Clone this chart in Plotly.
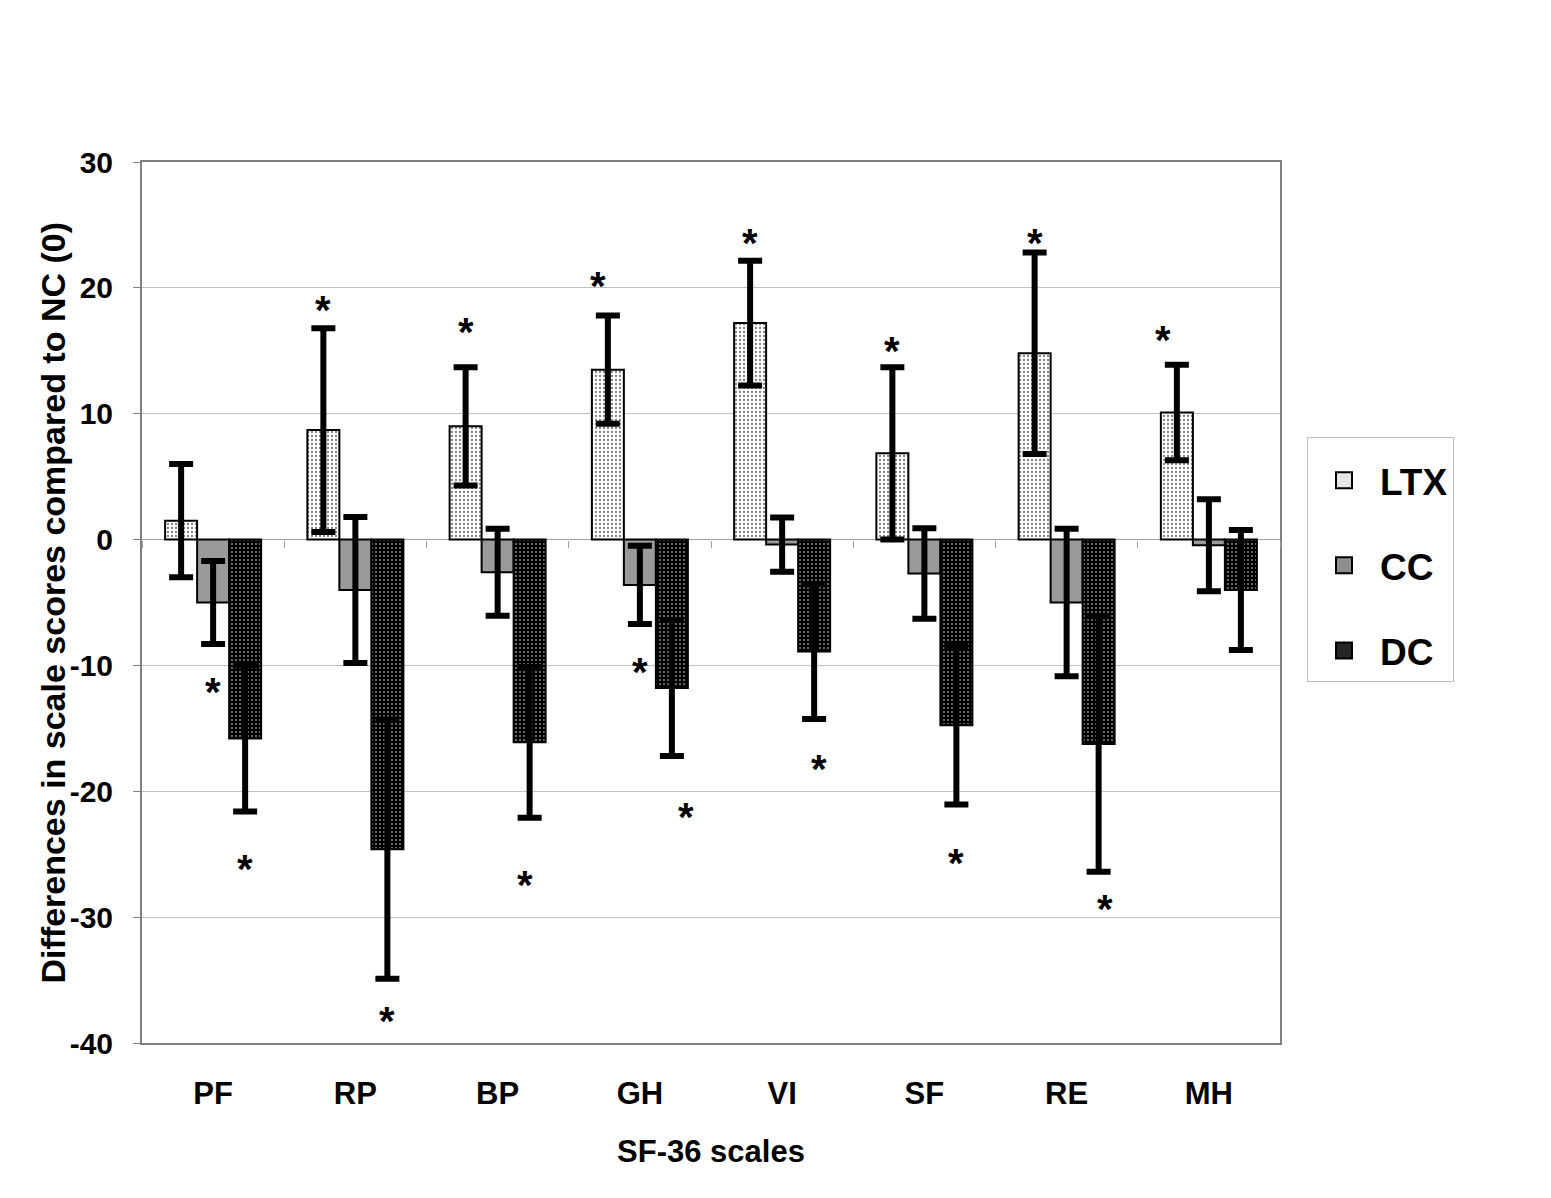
import plotly.graph_objects as go

categories = ["PF", "RP", "BP", "GH", "VI", "SF", "RE", "MH"]
series_names = ["LTX", "CC", "DC"]

ltx_values = [1.5, 8.7, 9.0, 13.5, 17.2, 6.85, 14.8, 10.1]
ltx_errors = [4.5, 8.1, 4.7, 4.3, 4.95, 6.85, 8.0, 3.8]
cc_values = [-5.0, -4.0, -2.6, -3.6, -0.4, -2.7, -5.0, -0.45]
cc_errors = [3.3, 5.8, 3.45, 3.1, 2.15, 3.6, 5.85, 3.65]
dc_values = [-15.8, -24.6, -16.1, -11.8, -8.9, -14.75, -16.25, -4.0]
dc_errors = [5.8, 10.3, 6.0, 5.4, 5.35, 6.3, 10.15, 4.77]

# significance stars: (category, series, y)
star_cats = ["PF", "PF", "RP", "RP", "BP", "BP", "GH", "GH", "GH", "VI", "VI", "SF", "SF", "RE", "RE", "MH"]
star_series = ["CC", "DC", "LTX", "DC", "LTX", "DC", "LTX", "CC", "DC", "LTX", "DC", "LTX", "DC", "LTX", "DC", "LTX"]
star_y = [-11.5, -25.5, 18.9, -37.6, 17.1, -26.8, 20.8, -9.9, -21.4, 24.2, -17.6, 15.6, -25.1, 24.2, -28.7, 16.5]

y_ticks = [30, 20, 10, 0, -10, -20, -30, -40]

PAGE_OFF = 8  # default body margin of the html page
W, H = 1535, 1182
ML, MT = 142 - PAGE_OFF, 162 - PAGE_OFF
MR = PAGE_OFF + W - 1280
MB = PAGE_OFF + H - 1043
BARGAP = 0.325
FONT = "Liberation Sans, Arial, sans-serif"

patterns = {
    "LTX": dict(shape=".", bgcolor="white", fgcolor="black", size=4, solidity=0.25),
    "CC": dict(shape=".", bgcolor="#bcbcbc", fgcolor="#202020", size=2, solidity=0.5),
    "DC": dict(shape=".", bgcolor="black", fgcolor="white", size=4, solidity=0.22),
}
legend_colors = {"LTX": "#e6e6e6", "CC": "#8e8e8e", "DC": "#262626"}
values = {"LTX": ltx_values, "CC": cc_values, "DC": dc_values}
errors = {"LTX": ltx_errors, "CC": cc_errors, "DC": dc_errors}

fig = go.Figure()
for name in series_names:
    fig.add_trace(go.Bar(
        x=categories, y=values[name], name=name, legendgroup=name, showlegend=False,
        marker=dict(color="white", pattern=patterns[name],
                    line=dict(color="black", width=2)),
        error_y=dict(type="data", array=errors[name], visible=True,
                     color="black", thickness=6, width=12),
    ))

# legend-only square markers
for name in series_names:
    fig.add_trace(go.Scatter(
        x=[None], y=[None], mode="markers", name=name, legendgroup=name,
        marker=dict(symbol="square", size=21, color=legend_colors[name],
                    line=dict(color="black", width=2)),
    ))

# invisible trace for the zero-line axis with boundary ticks
fig.add_trace(go.Scatter(x=categories, y=[0] * len(categories), xaxis="x2",
                         mode="markers", marker=dict(opacity=0),
                         showlegend=False, hoverinfo="skip"))

plot_w = 1280 - 142
cat_px = plot_w / len(categories)
bar_px = cat_px * (1 - BARGAP) / len(series_names)
offset = {n: (i - 1) * bar_px for i, n in enumerate(series_names)}
nudge = {("GH", "LTX"): -10, ("GH", "DC"): 14, ("MH", "LTX"): -14,
         ("BP", "DC"): -5, ("RE", "DC"): 6, ("VI", "DC"): 5}

for c, s, y in zip(star_cats, star_series, star_y):
    fig.add_annotation(x=c, y=y, text="*", showarrow=False,
                       xshift=offset[s] + nudge.get((c, s), 0), yshift=-8,
                       font=dict(family=FONT, size=40, color="black", weight="bold"))

# y-axis title as a rotated annotation (sits close to the tick labels)
fig.add_annotation(text="Differences in scale scores compared to NC (0)",
                   xref="paper", yref="paper", x=0, y=0.5, xshift=52 - 142,
                   textangle=-90, showarrow=False, xanchor="center", yanchor="middle",
                   font=dict(family=FONT, size=34, color="black", weight="bold"))

fig.update_layout(
    width=W, height=H,
    margin=dict(l=ML, r=MR, t=MT, b=MB),
    paper_bgcolor="white", plot_bgcolor="white",
    barmode="group", bargap=BARGAP, bargroupgap=0,
    font=dict(family=FONT, color="black", weight="bold"),
    showlegend=True,
    legend=dict(x=(1307 - 142) / plot_w, y=(1043 - 437) / (1043 - 162),
                xanchor="left", yanchor="top",
                bordercolor="#bdbdbd", borderwidth=1, bgcolor="white",
                font=dict(family=FONT, size=37, color="black", weight="bold"),
                title=dict(text="&nbsp;", font=dict(size=9)),
                tracegroupgap=34, itemwidth=62),
    xaxis=dict(type="category", categoryorder="array", categoryarray=categories,
               range=[-0.5, len(categories) - 0.5],
               showline=True, linecolor="#808080", linewidth=2, mirror=True,
               ticks="", showgrid=False,
               tickfont=dict(family=FONT, size=31, color="black", weight="bold"),
               ticklabelstandoff=22,
               title=dict(text="SF-36 scales", standoff=30,
                          font=dict(family=FONT, size=31, color="black", weight="bold"))),
    xaxis2=dict(type="category", categoryorder="array", categoryarray=categories,
                range=[-0.5, len(categories) - 0.5], overlaying="x",
                anchor="free", position=40 / 70, side="bottom",
                showline=False, showgrid=False, showticklabels=False,
                ticks="outside", tickson="boundaries", ticklen=7,
                tickcolor="#a0a0a0", tickwidth=1),
    yaxis=dict(range=[-40, 30], tickvals=y_ticks, ticktext=[str(v) for v in y_ticks],
               showline=True, linecolor="#808080", linewidth=2, mirror=True,
               ticks="outside", ticklen=7, tickcolor="#808080",
               showgrid=True, gridcolor="#c0c0c0", gridwidth=1,
               zeroline=True, zerolinecolor="#a0a0a0", zerolinewidth=1,
               tickfont=dict(family=FONT, size=30, color="black", weight="bold"),
               ticklabelstandoff=14),
)

fig.write_html("out.html")
